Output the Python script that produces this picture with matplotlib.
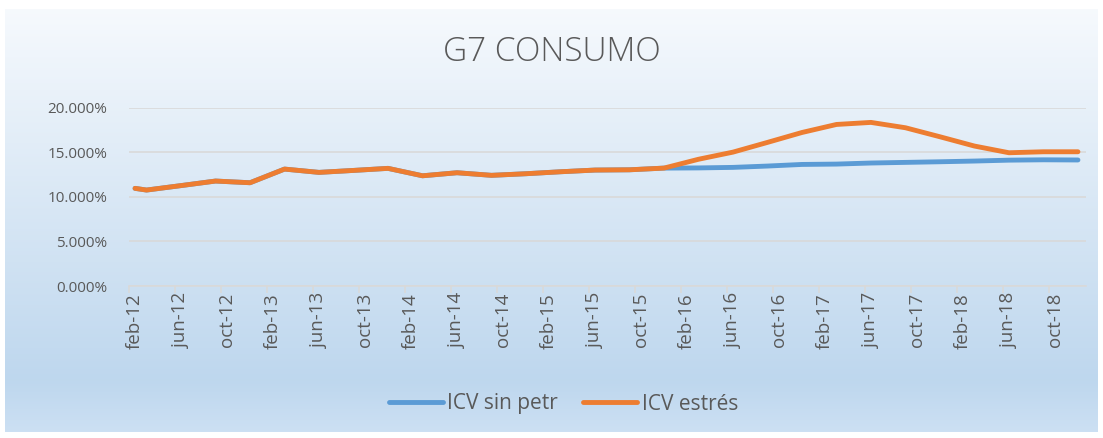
import numpy as np
import matplotlib
matplotlib.use("Agg")
import matplotlib.pyplot as plt

plt.rcParams['font.family'] = ['Open Sans', 'DejaVu Sans']

# fechas (año-mes) y series en %
dates = ["2012-02", "2012-03", "2012-06", "2012-09", "2012-12",
         "2013-03", "2013-06", "2013-09", "2013-12",
         "2014-03", "2014-06", "2014-09", "2014-12",
         "2015-03", "2015-06", "2015-09", "2015-12",
         "2016-03", "2016-06", "2016-09", "2016-12",
         "2017-03", "2017-06", "2017-09", "2017-12",
         "2018-03", "2018-06", "2018-09", "2018-12"]
icv_sin_petr = [10.94, 10.75, 11.25, 11.76, 11.57,
                13.10, 12.73, 12.95, 13.18,
                12.35, 12.69, 12.40, 12.58,
                12.80, 12.99, 13.02, 13.21,
                13.23, 13.29, 13.44, 13.62,
                13.66, 13.78, 13.85, 13.92,
                14.00, 14.10, 14.14, 14.12]
icv_estres = [10.94, 10.75, 11.25, 11.76, 11.57,
              13.10, 12.73, 12.95, 13.18,
              12.35, 12.69, 12.40, 12.58,
              12.80, 12.99, 13.02, 13.21,
              14.20, 15.00, 16.09, 17.20,
              18.10, 18.33, 17.73, 16.72,
              15.68, 14.93, 15.04, 15.04]
tick_labels = ["feb-12", "jun-12", "oct-12", "feb-13", "jun-13", "oct-13",
               "feb-14", "jun-14", "oct-14", "feb-15", "jun-15", "oct-15",
               "feb-16", "jun-16", "oct-16", "feb-17", "jun-17", "oct-17",
               "feb-18", "jun-18", "oct-18"]


def month_index(s):
    y, m = s.split("-")
    return (int(y) - 2012) * 12 + int(m) - 2


x = [month_index(d) for d in dates]
tick_pos = np.arange(len(tick_labels)) * 4

fig = plt.figure(figsize=(11.03, 4.38), dpi=100)
fig.patch.set_facecolor("white")

# fondo degradado del área del gráfico
bg = fig.add_axes([5 / 1103, 6 / 438, 1093 / 1103, 423 / 438])
t = np.linspace(0, 1, 256)
top = np.array([0.965, 0.978, 0.992])
mid = np.array([0.745, 0.843, 0.933])
bot = np.array([0.800, 0.878, 0.953])
cols = np.where(t[:, None] < 0.88,
                top + (mid - top) * (t[:, None] / 0.88),
                mid + (bot - mid) * ((t[:, None] - 0.88) / 0.12))
bg.imshow(cols[:, None, :], aspect="auto", extent=[0, 1, 0, 1])
bg.set_axis_off()

ax = fig.add_axes([129.3 / 1103, 152 / 438, 956.7 / 1103, 178.5 / 438])
ax.patch.set_alpha(0)

ax.plot(x, icv_sin_petr, color="#5b9bd5", lw=3.5, solid_capstyle="round",
        solid_joinstyle="round", label="ICV sin petr")
ax.plot(x, icv_estres, color="#ed7d31", lw=3.5, solid_capstyle="round",
        solid_joinstyle="round", label="ICV estrés")

ax.set_xlim(-0.5, 82.7)
ax.set_ylim(0, 20)
ax.set_yticks([0, 5, 10, 15, 20])
ax.set_yticklabels(["%.3f%%" % v for v in [0, 5, 10, 15, 20]],
                   fontsize=11, color="#595959")
ax.yaxis.grid(True, color="#d9d9d9", lw=1.2)
ax.set_axisbelow(True)
ax.tick_params(axis="y", length=0, pad=16)

ax.set_xticks(tick_pos)
ax.set_xticklabels(tick_labels, rotation=90, fontsize=13.5, color="#595959")
ax.set_xticks(tick_pos - 0.5, minor=True)
ax.tick_params(axis="x", which="major", length=0, pad=5)
ax.tick_params(axis="x", which="minor", length=5, color="#d9d9d9", width=1.2)

for s in ["top", "right", "left"]:
    ax.spines[s].set_visible(False)
ax.spines["bottom"].set_color("#d9d9d9")
ax.spines["bottom"].set_linewidth(1.2)

fig.text(0.5, 386 / 438, "G7 CONSUMO", ha="center", va="center",
         fontsize=24, color="#595959", fontweight="light")

leg = ax.legend(loc="center", bbox_to_anchor=(563.5 / 1103, 34 / 438),
                bbox_transform=fig.transFigure, ncol=2, frameon=False,
                fontsize=15, handlelength=2.6, columnspacing=1.2,
                handletextpad=0.2)
for txt in leg.get_texts():
    txt.set_color("#595959")

fig.savefig("out.png", dpi=100, facecolor="white")
